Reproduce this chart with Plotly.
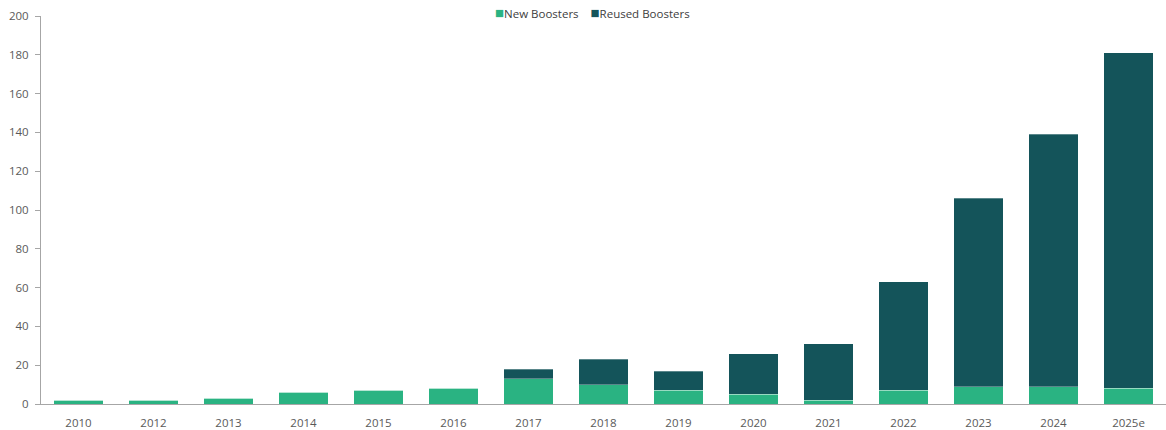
import plotly.graph_objects as go

categories = ["2010", "2012", "2013", "2014", "2015", "2016", "2017", "2018",
              "2019", "2020", "2021", "2022", "2023", "2024", "2025e"]
new_boosters = [2, 2, 3, 6, 7, 8, 13, 10, 7, 5, 2, 7, 9, 9, 8]
reused_boosters = [0, 0, 0, 0, 0, 0, 5, 13, 10, 21, 29, 56, 97, 130, 173]
y_ticks = [0, 20, 40, 60, 80, 100, 120, 140, 160, 180, 200]
series_names = ["New Boosters", "Reused Boosters"]

GREEN = "#2AB382"
TEAL = "#14545A"

fig = go.Figure()
fig.add_trace(go.Bar(x=categories, y=new_boosters, name=series_names[0],
                     marker=dict(color=GREEN, line=dict(color="rgba(255,255,255,0.6)", width=0.5))))
fig.add_trace(go.Bar(x=categories, y=reused_boosters, name=series_names[1],
                     marker=dict(color=TEAL, line=dict(color="rgba(255,255,255,0.6)", width=0.5))))

legend_text = (f"<span style='color:{GREEN};font-size:15px'>■</span>{series_names[0]}"
               f"&nbsp;&nbsp;&nbsp;&nbsp;<span style='color:{TEAL};font-size:15px'>■</span>{series_names[1]}")
fig.add_annotation(text=legend_text, xref="paper", yref="paper", x=0.49, y=1.01,
                   xanchor="center", yanchor="middle", showarrow=False,
                   font=dict(family="Open Sans, Noto Sans, sans-serif", size=11.5, color="#404040"))

fig.update_layout(
    width=1166, height=430,
    barmode="stack", bargap=0.335,
    showlegend=False,
    margin=dict(l=41, r=0, t=16, b=26, autoexpand=False),
    paper_bgcolor="white", plot_bgcolor="white",
    font=dict(family="Open Sans, Noto Sans, sans-serif", size=11.5, color="#595959"),
    xaxis=dict(type="category", showline=True, linecolor="#A6A6A6", linewidth=1,
               ticks="", showgrid=False, ticklabelstandoff=8, automargin=False,
               tickfont=dict(size=11.5, color="#595959")),
    yaxis=dict(range=[0, 200], tickvals=y_ticks, showline=True, linecolor="#A6A6A6",
               linewidth=1, ticks="outside", ticklen=5, tickcolor="#A6A6A6",
               ticklabelstandoff=4, automargin=False,
               showgrid=False, zeroline=False, tickfont=dict(size=11.5, color="#595959")),
)

fig.write_html("out.html")
